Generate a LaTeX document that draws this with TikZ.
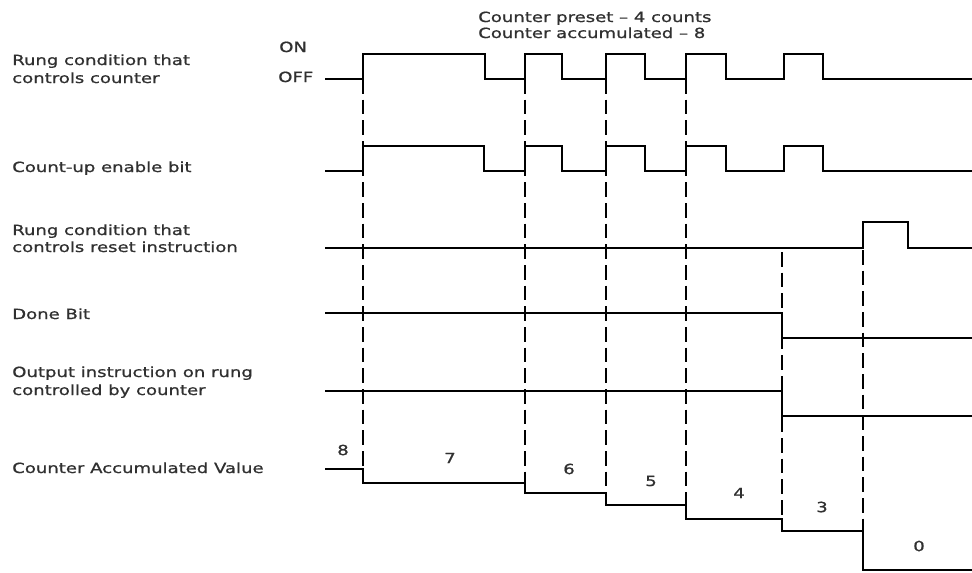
\documentclass[tikz,border=0pt]{standalone}
\usepackage{fontspec}
\setmainfont[FakeStretch=1.29,FakeBold=0.9]{DejaVu Sans}
\definecolor{txtgrey}{HTML}{303030}
\begin{document}
\begin{tikzpicture}[x=0.75pt,y=-0.75pt,
  wave/.style={line width=1.4pt,black,line join=miter},
  guide/.style={line width=1.4pt,black,dash pattern=on 11pt off 4.5pt},
  lbl/.style={anchor=base west,inner sep=0pt,text=txtgrey,font=\fontsize{10.5}{13}\selectfont},
  num/.style={anchor=center,inner sep=0pt,text=txtgrey,font=\fontsize{10.5}{13}\selectfont}]
\useasboundingbox (0,0) rectangle (972,572);
% title
\node[lbl] (t1) at (478,22) {Counter preset -- 4 counts};
\node[lbl] (t2) at (478,38) {Counter accumulated -- 8};
% row labels
\node[lbl] (r1a) at (12,65) {Rung condition that};
\node[lbl] (r1b) at (12,83) {controls counter};
\node[lbl] (on) at (279,52) {ON};
\node[lbl] (off) at (278,82) {OFF};
\node[lbl] (r2) at (12,172) {Count-up enable bit};
\node[lbl] (r3a) at (12,235) {Rung condition that};
\node[lbl] (r3b) at (12,252) {controls reset instruction};
\node[lbl] (r4) at (12,319) {Done Bit};
\node[lbl] (r5a) at (12,377) {Output instruction on rung};
\node[lbl] (r5b) at (12,395) {controlled by counter};
\node[lbl] (r6) at (12,473) {Counter Accumulated Value};
% waveforms
\draw[wave] (325,79)--(363,79)--(363,54)--(485,54)--(485,79)--(525,79)--(525,54)--(562,54)--(562,79)--(606,79)--(606,54)--(645,54)--(645,79)--(686,79)--(686,54)--(726,54)--(726,79)--(784,79)--(784,54)--(823,54)--(823,79)--(972,79);
\draw[wave] (325,171)--(363,171)--(363,146)--(484,146)--(484,171)--(525,171)--(525,146)--(562,146)--(562,171)--(606,171)--(606,146)--(645,146)--(645,171)--(686,171)--(686,146)--(726,146)--(726,171)--(784,171)--(784,146)--(823,146)--(823,171)--(972,171);
\draw[wave] (325,248)--(863,248)--(863,222)--(908,222)--(908,248)--(972,248);
\draw[wave] (325,313)--(782,313)--(782,338)--(972,338);
\draw[wave] (325,391)--(782,391)--(782,416)--(972,416);
\draw[wave] (325,469)--(363,469)--(363,483)--(525,483)--(525,493)--(606,493)--(606,505)--(686,505)--(686,519)--(782,519)--(782,531)--(863,531)--(863,570)--(972,570);
% dashed guides
\draw[guide] (363,79)--(363,469);
\draw[guide] (525,79)--(525,483);
\draw[guide] (606,79)--(606,493);
\draw[guide] (686,79)--(686,505);
\draw[guide] (782,252)--(782,519);
\draw[guide] (863,250)--(863,531);
% counter values
\node[num] (v8) at (343,450) {8};
\node[num] (v7) at (450,458) {7};
\node[num] (v6) at (569,469) {6};
\node[num] (v5) at (651,481) {5};
\node[num] (v4) at (739,493) {4};
\node[num] (v3) at (822,507) {3};
\node[num] (v0) at (919,546) {0};
\end{tikzpicture}
\end{document}
